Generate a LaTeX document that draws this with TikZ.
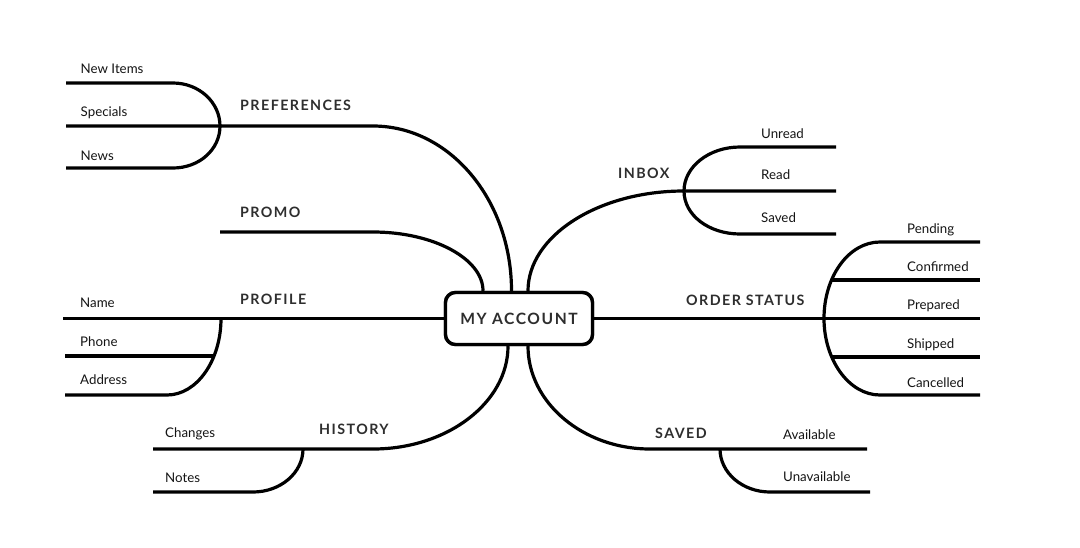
\documentclass[tikz,border=0pt]{standalone}
\usepackage{fontspec}
\setmainfont{Lato}
\newfontfamily\titlefont[LetterSpace=10]{Lato}
\begin{document}
\begin{tikzpicture}[x=1pt,y=-1pt,
  conn/.style={line width=3.2pt, draw=black},
  lbl/.style={anchor=base west, inner sep=0pt, text=black!92, font=\fontsize{13.3}{15}\selectfont},
  ttl/.style={anchor=base west, inner sep=0pt, text=black!82, font=\titlefont\bfseries\fontsize{14.3}{16}\selectfont},
  hub/.style={draw=black, line width=3.4pt, rounded corners=10pt, fill=white, minimum width=147pt, minimum height=52pt, inner sep=0pt, text=black!82, font=\titlefont\bfseries\fontsize{15.6}{18}\selectfont}]
\useasboundingbox (0,0) rectangle (1080,547);

\node[hub] (acct) at (519,318.5) {MY ACCOUNT};

% ---------- branch points and end points ----------
\coordinate (prefRoot) at (511.5,0 |- acct.north);
\coordinate (promoRoot) at (483,0 |- acct.north);
\coordinate (inboxRoot) at (528,0 |- acct.north);
\coordinate (histRoot) at (508,0 |- acct.south);
\coordinate (savedRoot) at (528,0 |- acct.south);
\coordinate (profRoot) at (acct.west);
\coordinate (orderRoot) at (acct.east);

\coordinate (prefFork) at (220,126);
\coordinate (prefEnd) at (66,126);
\coordinate (newEnd) at (66,83);
\coordinate (newsEnd) at (66,168);
\coordinate (promoEnd) at (220,232);
\coordinate (profFork) at (221,318.5);
\coordinate (profEnd) at (63,318.5);
\coordinate (phoneEnd) at (65,356);
\coordinate (addrEnd) at (65,395);
\coordinate (histFork) at (303,449);
\coordinate (histEnd) at (153,449);
\coordinate (notesEnd) at (153,492);
\coordinate (inboxFork) at (684,191);
\coordinate (readEnd) at (836,191);
\coordinate (unreadEnd) at (836,147);
\coordinate (isavedEnd) at (836,234);
\coordinate (orderFork) at (824,318.5);
\coordinate (orderEnd) at (980,318.5);
\coordinate (pendEnd) at (980,242);
\coordinate (confEnd) at (980,280);
\coordinate (shipEnd) at (980,357);
\coordinate (cancEnd) at (980,395);
\coordinate (savedFork) at (720,449);
\coordinate (availEnd) at (867,449);
\coordinate (unavEnd) at (870,492);

% ---------- connectors ----------
% preferences
\draw[conn] (prefRoot) .. controls (511.5,199.8) and (449.5,126) .. (373,126) -- (prefFork) -- (prefEnd);
\draw[conn] (newEnd) -- (173,83) .. controls (199,83) and (220,102.3) .. (prefFork)
  .. controls (220,149.7) and (199,168) .. (173,168) -- (newsEnd);
% promo
\draw[conn] (promoRoot) .. controls (483,258.9) and (433.8,232) .. (373,232) -- (promoEnd);
% profile
\draw[conn] (profRoot) -- (profFork) -- (profEnd);
\draw[conn] (profFork) .. controls (221,360.5) and (196.8,395) .. (167,395) -- (addrEnd);
\draw[conn] (213.5,356) -- (phoneEnd);
% history
\draw[conn] (histRoot) .. controls (508,402.3) and (447.6,449) .. (373,449) -- (histFork) -- (histEnd);
\draw[conn] (histFork) .. controls (303,472.7) and (280.6,492) .. (253,492) -- (notesEnd);
% inbox
\draw[conn] (inboxRoot) .. controls (528,236) and (598,191) .. (inboxFork) -- (readEnd);
\draw[conn] (unreadEnd) -- (740,147) .. controls (709,147) and (684,166.7) .. (inboxFork)
  .. controls (684,215.3) and (709,234) .. (740,234) -- (isavedEnd);
% order status
\draw[conn] (orderRoot) -- (orderFork) -- (orderEnd);
\draw[conn] (pendEnd) -- (880,242) .. controls (849,242) and (824,276) .. (orderFork)
  .. controls (824,360) and (849,395) .. (880,395) -- (cancEnd);
\draw[conn] (830.5,280) -- (confEnd);
\draw[conn] (830.5,357) -- (shipEnd);
% saved
\draw[conn] (savedRoot) .. controls (528,402.3) and (582.6,449) .. (650,449) -- (savedFork) -- (availEnd);
\draw[conn] (savedFork) .. controls (720,472.7) and (742.4,492) .. (770,492) -- (unavEnd);

% redraw hub on top
\node[hub] at (acct) {MY ACCOUNT};

% ---------- titles ----------
\node[ttl] (tPref) at (240,110) {PREFERENCES};
\node[ttl] (tPromo) at (240,217) {PROMO};
\node[ttl] (tProf) at (240,304) {PROFILE};
\node[ttl] (tHist) at (319,434) {HISTORY};
\node[ttl] (tInbox) at (618,178) {INBOX};
\node[ttl] (tOrder) at (686,305) {ORDER STATUS};
\node[ttl] (tSaved) at (655,438) {SAVED};

% ---------- labels ----------
\node[lbl] (lNew) at (80.5,73.5) {New Items};
\node[lbl] (lSpec) at (80.5,116) {Specials};
\node[lbl] (lNews) at (80.5,160.5) {News};
\node[lbl] (lName) at (80,307.5) {Name};
\node[lbl] (lPhone) at (80,346.5) {Phone};
\node[lbl] (lAddr) at (80,384.5) {Address};
\node[lbl] (lChg) at (165,437.5) {Changes};
\node[lbl] (lNotes) at (165,482.5) {Notes};
\node[lbl] (lUnread) at (761,138.5) {Unread};
\node[lbl] (lRead) at (761,179.5) {Read};
\node[lbl] (lISaved) at (761,222.5) {Saved};
\node[lbl] (lPend) at (907,233.5) {Pending};
\node[lbl] (lConf) at (907,271.5) {Confirmed};
\node[lbl] (lPrep) at (907,309.5) {Prepared};
\node[lbl] (lShip) at (907,348.5) {Shipped};
\node[lbl] (lCanc) at (907,387.5) {Cancelled};
\node[lbl] (lAvail) at (783,439.5) {Available};
\node[lbl] (lUnav) at (783,481.5) {Unavailable};
\end{tikzpicture}
\end{document}
